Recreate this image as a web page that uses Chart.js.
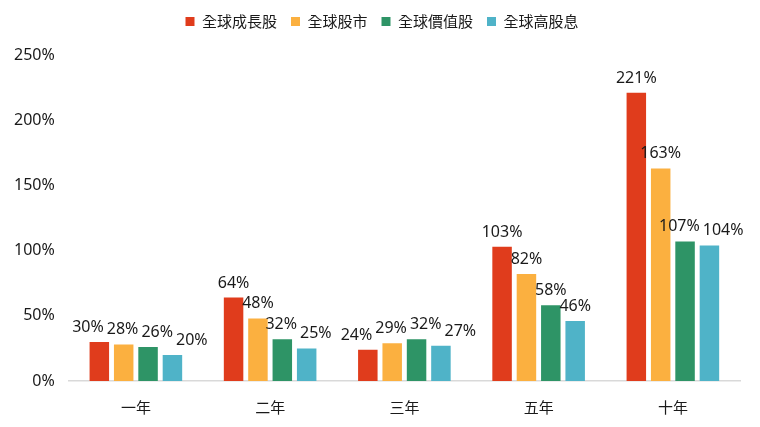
<!DOCTYPE html>
<html>
<head>
<meta charset="utf-8">
<script src="https://cdn.jsdelivr.net/npm/chart.js@4"></script>
<style>
  html, body { margin: 0; padding: 0; background: #fff; }
  #wrap { width: 760px; height: 427px; }
</style>
</head>
<body>
<div id="wrap"><canvas id="chart"></canvas></div>
<script>
// Categories and series
const categories = ['一年', '二年', '三年', '五年', '十年'];
const growth = [30, 64, 24, 103, 221];   // 全球成長股
const market = [28, 48, 29, 82, 163];    // 全球股市
const value = [26, 32, 32, 58, 107];     // 全球價值股
const dividend = [20, 25, 27, 46, 104];  // 全球高股息
const yTicks = [0, 50, 100, 150, 200, 250];

const FONT = '"Noto Sans", "Noto Sans CJK TC", sans-serif';
const CJK = '"Noto Sans CJK TC", "Noto Sans", sans-serif';

// value labels above bars, nudged sideways where they would collide
const valueLabels = {
    id: 'valueLabels',
    afterDatasetsDraw(chart) {
        const ctx = chart.ctx;
        ctx.save();
        ctx.font = '16px ' + FONT;
        ctx.fillStyle = '#1a1a1a';
        ctx.textAlign = 'center';
        ctx.textBaseline = 'alphabetic';
        const n = chart.data.labels.length;
        for (let j = 0; j < n; j++) {
            const items = chart.data.datasets.map((ds, i) => {
                const bar = chart.getDatasetMeta(i).data[j];
                const text = ds.data[j] + '%';
                return { text, x: bar.x, y: bar.y - 10, w: ctx.measureText(text).width };
            });
            // group neighbours whose labels overlap
            const clusters = [];
            items.forEach(it => {
                const last = clusters[clusters.length - 1];
                const prev = last && last[last.length - 1];
                if (prev && Math.abs(prev.y - it.y) < 15 && prev.x + prev.w / 2 > it.x - it.w / 2) {
                    last.push(it);
                } else {
                    clusters.push([it]);
                }
            });
            clusters.forEach(c => {
                if (c.length < 2) return;
                const mean = c.reduce((s, it) => s + it.x, 0) / c.length;
                const total = c.reduce((s, it) => s + it.w, 0) + 3 * (c.length - 1);
                let left = mean - total / 2 + 4;
                c.forEach(it => { it.x = left + it.w / 2; left += it.w + 3; });
            });
            items.forEach(it => ctx.fillText(it.text, it.x, it.y));
        }
        ctx.restore();
    }
};

// extra room under the legend, and nudge it right a little
const legendSpacing = {
    id: 'legendSpacing',
    afterInit(chart) {
        const fit = chart.legend.fit;
        chart.legend.fit = function () { fit.call(this); this.height += 16; };
    },
    afterLayout(chart) {
        chart.legend.left += 12;
        chart.legend.right += 12;
    }
};

new Chart(document.getElementById('chart'), {
    type: 'bar',
    data: {
        labels: categories,
        datasets: [
            { label: '全球成長股', data: growth, backgroundColor: '#E03C1C' },
            { label: '全球股市', data: market, backgroundColor: '#FBB040' },
            { label: '全球價值股', data: value, backgroundColor: '#2E9466' },
            { label: '全球高股息', data: dividend, backgroundColor: '#4FB3C8' }
        ]
    },
    options: {
        responsive: true, maintainAspectRatio: false,
        animation: false,
        categoryPercentage: 0.726,
        barPercentage: 0.8,
        layout: { padding: { left: 0, right: 20, top: 0, bottom: 2 } },
        plugins: {
            legend: {
                position: 'top',
                labels: {
                    boxWidth: 9, boxHeight: 9, padding: 14,
                    color: '#1a1a1a',
                    font: { family: CJK, size: 15 }
                }
            },
            tooltip: { enabled: false }
        },
        scales: {
            x: {
                grid: { display: false },
                border: { display: true, color: '#d9d9d9', width: 1.5 },
                ticks: { color: '#1a1a1a', padding: 9, font: { family: CJK, size: 15 } }
            },
            y: {
                min: 0, max: 250,
                afterBuildTicks: axis => { axis.ticks = yTicks.map(v => ({ value: v })); },
                grid: { display: false, drawTicks: false },
                border: { display: false },
                ticks: {
                    color: '#1a1a1a', padding: 14,
                    font: { family: FONT, size: 16 },
                    callback: v => v + '%'
                }
            }
        }
    },
    plugins: [valueLabels, legendSpacing]
});
</script>
</body>
</html>
